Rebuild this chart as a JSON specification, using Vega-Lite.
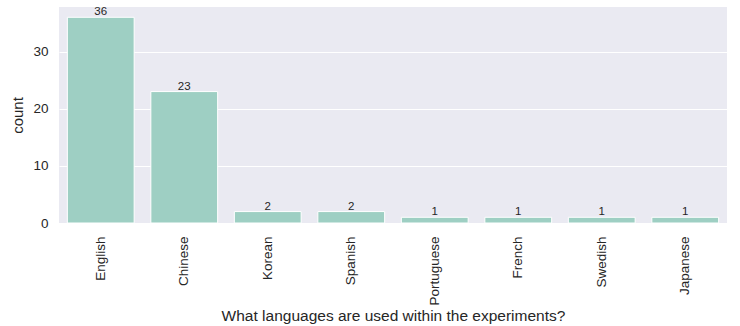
{
  "$schema": "https://vega.github.io/schema/vega-lite/v6.json",
  "width": 668,
  "height": 216,
  "autosize": "none",
  "padding": {"left": 59, "top": 7, "right": 13, "bottom": 103},
  "background": "white",
  "config": {
    "view": {"fill": "#EAEAF2", "stroke": null},
    "font": "Liberation Sans",
    "axis": {"labelColor": "#262626", "titleColor": "#262626", "labelFont": "Liberation Sans", "titleFont": "Liberation Sans", "titleFontWeight": "normal"}
  },
  "data": {"values": [
    {"language": "English", "count": 36},
    {"language": "Chinese", "count": 23},
    {"language": "Korean", "count": 2},
    {"language": "Spanish", "count": 2},
    {"language": "Portuguese", "count": 1},
    {"language": "French", "count": 1},
    {"language": "Swedish", "count": 1},
    {"language": "Japanese", "count": 1}
  ]},
  "encoding": {
    "x": {"field": "language", "type": "nominal", "sort": null,
      "scale": {"paddingInner": 0.2, "paddingOuter": 0.1},
      "axis": {"title": "What languages are used within the experiments?", "labelAngle": -90, "labelAlign": "right", "labelBaseline": "middle", "labelFontSize": 13.5, "ticks": false, "domain": false, "grid": false, "labelPadding": 13, "titleFontSize": 15.5, "titleY": 97, "titleBaseline": "alphabetic"}},
    "y": {"field": "count", "type": "quantitative",
      "scale": {"domain": [0, 37.8], "nice": false, "zero": true},
      "axis": {"title": "count", "values": [0, 10, 20, 30], "ticks": false, "domain": false, "grid": true, "gridColor": "white", "gridWidth": 1, "labelFontSize": 13.5, "labelPadding": 11, "titleFontSize": 15, "titlePadding": 7}}
  },
  "layer": [
    {"mark": {"type": "bar", "color": "#9ecfc3", "stroke": "white", "strokeWidth": 1}},
    {"mark": {"type": "text", "baseline": "alphabetic", "dy": -2, "fontSize": 11.5, "color": "#262626"},
     "encoding": {"text": {"field": "count", "type": "quantitative"}}}
  ]
}
